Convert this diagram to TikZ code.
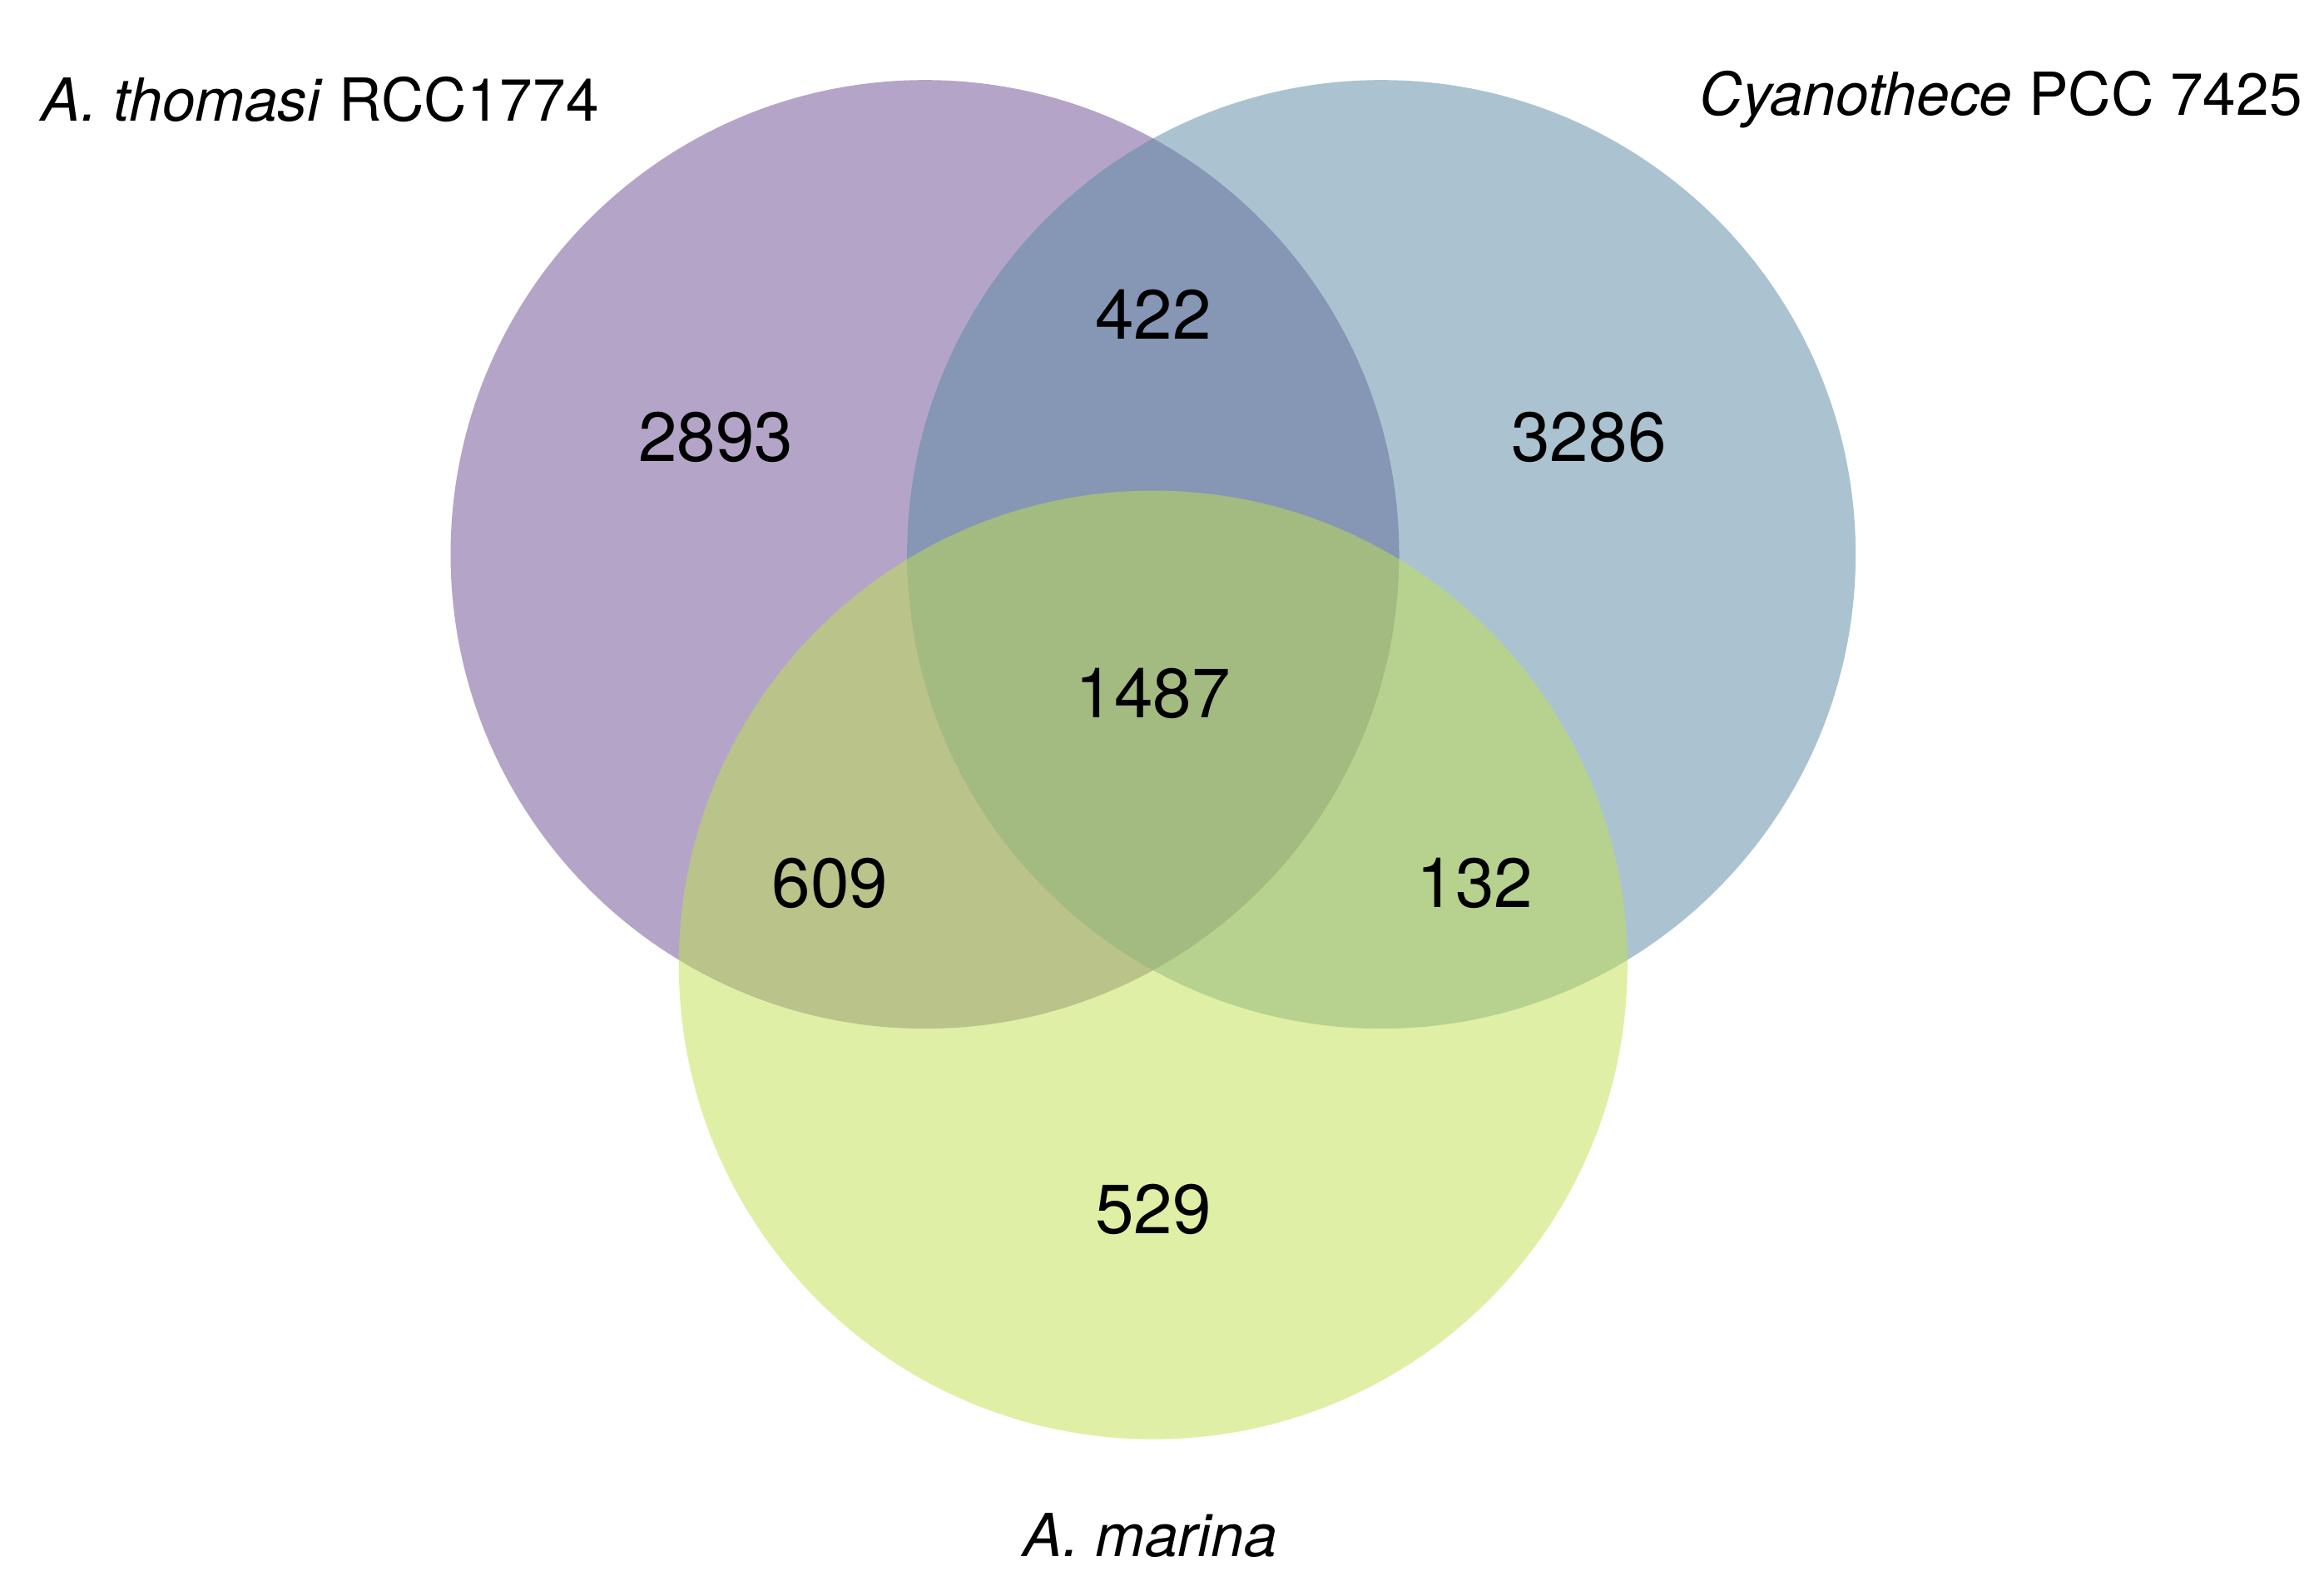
\documentclass[tikz,border=0pt]{standalone}
\usepackage{fontspec}
\setmainfont{TeX Gyre Heros}
\definecolor{cp}{RGB}{107,77,147}
\definecolor{cb}{RGB}{89,137,163}
\definecolor{cg}{RGB}{193,225,77}
\begin{document}
\begin{tikzpicture}[x=0.5pt,y=-0.5pt,
 num/.style={font=\fontsize{23.5}{28}\selectfont},
 lab/.style={font=\fontsize{20}{24}\selectfont}]
\useasboundingbox (0,0) rectangle (1568,1070);
\fill[white] (0,0) rectangle (1568,1070);
\fill[cp,opacity=0.5] (624,374) circle[radius=320];
\fill[cb,opacity=0.5] (932,374) circle[radius=320];
\fill[cg,opacity=0.5] (778,651) circle[radius=320];
\node[num] (a) at (483,295) {2893};
\node[num] (ab) at (778,212) {422};
\node[num] (b) at (1072,295) {3286};
\node[num] (abc) at (778,468) {1487};
\node[num] (ac) at (560,596) {609};
\node[num] (bc) at (995,596) {132};
\node[num] (c) at (778,816) {529};
\node[lab] (la) at (216,67) {\textit{A. thomasi} RCC1774};
\node[lab] (lb) at (1350,67) {\textit{Cyanothece} PCC 7425};
\node[lab] (lc) at (776,1036) {\textit{A. marina}};
\end{tikzpicture}
\end{document}
